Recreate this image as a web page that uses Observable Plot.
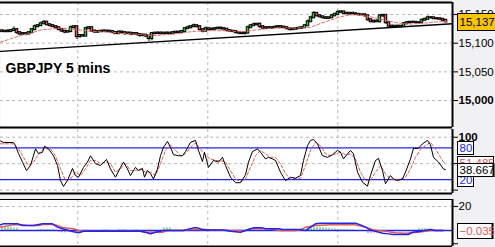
<!DOCTYPE html>
<html><head><meta charset="utf-8">
<script src="https://cdn.jsdelivr.net/npm/d3@7"></script>
<script src="https://cdn.jsdelivr.net/npm/@observablehq/plot@0.6"></script>
<style>
html,body{margin:0;padding:0;background:#fff;}
#chart{position:relative;width:495px;height:247px;overflow:hidden;background:#f1f1f4;}
#chart svg{display:block;}
</style></head><body><div id="chart"></div>
<script>
// ---------- data ----------
const title = "GBPJPY 5 mins";
const closes = [
15120.2,15121.0,15120.2,15121.9,15123.6,15118.4,15115.9,15116.7,15115.9,15118.4,
15123.6,15128.8,15130.5,15133.9,15136.5,15132.2,15130.5,15128.8,15127.0,15123.6,
15121.0,15119.3,15120.2,15127.0,15128.8,15111.5,15113.3,15112.4,15125.3,15127.0,
15121.0,15119.3,15120.2,15121.0,15120.2,15121.0,15120.2,15118.4,15116.7,15119.3,
15118.4,15116.7,15117.6,15115.9,15116.7,15115.0,15113.3,15114.1,15112.4,15108.1,
15116.7,15117.6,15116.7,15117.6,15116.7,15117.6,15116.7,15118.4,15119.3,15118.4,
15120.2,15125.3,15127.0,15128.8,15130.5,15128.8,15123.6,15121.0,15125.3,15123.6,
15124.5,15125.3,15126.2,15125.3,15124.5,15121.9,15121.0,15120.2,15118.4,15117.6,
15116.7,15117.6,15127.0,15130.5,15132.2,15133.1,15128.8,15126.2,15127.0,15126.2,
15127.0,15127.9,15128.8,15127.9,15127.0,15125.3,15123.6,15124.5,15125.3,15126.2,
15127.0,15130.5,15137.4,15144.3,15152.1,15147.7,15146.0,15144.3,15143.4,15144.3,
15147.7,15150.3,15153.8,15154.6,15152.1,15151.2,15152.1,15151.2,15150.3,15149.5,
15149.5,15147.7,15140.9,15137.4,15138.3,15137.4,15147.7,15148.6,15135.7,15129.6,
15128.8,15129.6,15128.8,15129.6,15133.9,15135.7,15136.5,15136.5,15135.7,15135.7,
15140.0,15141.7,15144.3,15144.3,15142.6,15142.6,15141.7,15140.0,15137.0];
const firstOpen = 15121.5;
const upWick = [
2,1,3,2,5,2,1,2,1,2, 2,3,2,3,3,2,1,2,2,1, 2,1,2,3,2,1,2,1,3,2, 1,2,2,1,3,2,1,2,1,2,
2,1,2,1,2,2,1,2,1,1, 2,1,2,2,1,2,1,2,1,2, 2,2,3,2,3,1,1,2,3,1, 2,1,2,2,1,1,2,1,1,2,
1,2,3,2,3,1,2,2,1,2, 1,2,2,1,2,1,1,2,1,2, 2,2,3,3,3,1,2,1,2,1, 2,2,3,2,1,2,1,2,2,1,
1,2,1,1,2,3,2,1,1,1, 2,1,2,1,2,2,1,2,1,1, 2,2,3,2,1,2,1,1,1];
const downWick = [
1,2,2,1,1,3,2,1,3,1, 1,1,2,1,1,2,2,1,2,2, 2,3,1,1,2,5,3,2,1,1, 2,1,2,2,1,2,3,2,1,2,
2,3,1,3,2,2,3,2,3,5, 4,2,1,2,2,1,2,1,2,1, 1,1,1,2,1,2,2,3,1,2, 1,2,1,2,1,2,2,1,2,3,
2,2,1,1,1,2,3,1,2,1, 2,1,1,2,1,2,2,1,2,1, 1,1,1,1,1,2,2,2,1,2, 1,1,1,1,2,1,2,1,1,2,
1,2,3,2,3,1,2,3,3,2, 1,2,1,2,1,1,2,1,2,2, 1,1,1,2,1,2,1,2,1];
const maT = [0,3.33,6.67,10,13.33,16.67,20,23.33,26.67,30,33.33,36.67,40,43.33,46.67,50,51.67,55,58.33,61.67,65,68.33,71.67,75,78.33,81.67,85,88.33,91.67,95,98.33,101.67,103.33,106.67,110,113.33,116.67,120,123.33,126.67,130,133.33,136.67,140,143.33,146.67,149.33];
const maV = [15101.7,15107.6,15113.3,15117.2,15123.1,15124.8,15126.5,15124.8,15123.1,15120.7,15120.7,15119.0,15117.2,15116.2,15115.0,15113.3,15113.3,15115.0,15116.2,15119.0,15120.7,15121.9,15121.9,15121.9,15120.7,15120.7,15123.1,15124.8,15126.5,15126.5,15126.5,15127.2,15127.6,15134.5,15140.3,15146.0,15149.5,15149.5,15146.0,15142.1,15137.9,15134.5,15133.4,15134.5,15136.2,15137.9,15137.9];
const trendT = [0,150.67];
const trendV = [15085.7,15133.9];
const timeGrid = [25.77,69.1,112.43];
const priceTicks = [15150,15100,15050];
const priceBoldTicks = [15000];
const lastPrice = 15137.0;

const kT = [0,1,4.33,5,6,7.33,8.67,10,11.67,12.67,14,14.67,16,17.67,19,20,21,22.33,24,25,26,27.67,29,30,31.67,33.33,35.33,36.67,38.33,40,41,42.33,43.33,45,46,47.33,48,49,50,51,52.33,53.33,54.33,55.67,56.67,57.67,59.33,60.67,61.67,63.33,65,66,67.33,68,69.33,71,72.67,74,75,76.67,78.33,80,81.67,82.67,84,85.67,86.67,88.33,89.33,90.67,91.67,93.33,95,96.67,98.33,100,101,102.33,103.33,104.33,105.67,107.33,109,110.67,112.33,113.33,114.33,115.67,116.67,117.67,119,120.67,122.33,123.33,125,126,127.33,128.33,130,131,132.33,134,135,136.67,137.67,139.33,140.67,142.33,143.33,144.33,146,147.67,148.33];
const kV = [93,90,90,84,69,53,37,46.5,78,69,71.6,83,78,65,46.5,18,7,18,41,27.6,24.4,43,53,65,50,46.5,58,40,24.4,43,53,40,27.6,43,37,41,24.4,37,31,21,40,65,81,92,81,67,65,65,73,90.5,94,75,54,71.6,43,56,53,62,46.5,24.4,14,14,29,53,73,78,71.6,59,62,59,56,34,18,24.4,22.5,27.6,56,84,94,95.6,87.5,65,62,67,75,71.6,59,68.6,75,68.6,34,15,7.4,27.6,56,60,37,12,27.6,21,18,21,34,59,79,79,87.5,94,85.6,62,53,40,38.667];
const dT = [0,4.33,6,7.67,9.33,11,12.67,14.33,16.67,18.33,20,21.67,23.33,25,26.67,28.33,30,31.67,33.33,35,36.67,38.33,40,41.67,43.33,45,46.67,48.33,50,51.67,53.33,55,56.67,58.33,60,61.67,63.33,65,66.67,68.33,70,71.67,73.33,75,76.67,78.33,80,81.67,83.33,85,86.67,88.33,90,91.67,93.33,95,96.67,98.33,100,101.67,103.33,105,106.67,108.33,110,111.67,113.33,115,116.67,118.33,120,121.67,123.33,125,126.67,128.33,130,131.67,133.33,135,136.67,138.33,140,141.67,143.33,145,146.67,147.67,148.33];
const dV = [87.5,87.5,78,62,46.5,53,68.6,78,78,65,40,18,21,34,27.6,40,56,56,50,53,50,34,40,50,37,37,40,34,34,27.6,50,75,85.6,75,65,68.6,81,89,78,65,59,56,56,53,37,21,16,21,43,65,75,68.6,62,62,50,31,21,22.5,22.5,46.5,75,90.5,84,68.6,65,68.6,71.6,67,68.6,59,34,18,18,34,46.5,31,21,20,21,24.4,40,62,77,84,90.5,78,62,53,51.4];
const stochGrid = [100,50,0];
const stochLevels = [80,20];

const macdT = [0,1,5.67,7.33,11,14,17.33,19,20.67,22.67,24.33,26,27.67,46.67,48.33,50,51.67,54.33,61,62.67,64.33,65.67,67,69,74.33,76.67,80,81.67,83.33,84.33,87.33,88.33,92.67,94,100,101.67,103.33,105,106.67,118.33,120,121.67,123.33,125,127.33,129.33,131,136,137.33,140,143.33,145,147.67];
const macdV = [4.7,5.6,5.6,4.2,4.2,5.6,5.6,2.8,1.4,0,-1.1,-1.9,-0.6,-0.6,-1.4,-2.8,-1.4,0,0,1.1,2.2,2.2,1.1,0.5,0.5,-0.6,-1.4,0,1.4,2.2,2.2,1.4,1.4,0.8,0.8,0,2.8,5.6,6.1,6.1,4.7,2.8,0.5,-0.6,-2.2,-2.8,-3.3,-3.3,-1.4,-0.6,0.8,0,0];
const sigT = [0,1.67,4,7.33,9,13,14,17.33,19,21,24.33,26,28,46.67,48.33,54,55.67,61,62,64.33,68,72,76.67,81.67,83.33,89,91,93.33,98,100,101.67,105,110,118.33,121.67,124.33,128.33,131.67,135,139.33,143.33,147.67];
const sigV = [2.8,3.6,4.7,4.7,4.2,4.2,5.1,5.1,4.2,2.2,1.4,0,-0.6,-0.6,-1.4,-1.4,0,0,0.5,1.1,0.8,0.5,0,0,1.4,1.4,0.8,0,0,0.5,2.8,4.2,4.7,4.7,2.8,0.5,-0.6,-1.9,-2.2,-1.4,0,0];
const histV = [
3,3,2.5,2.5,2,2, -1,-1,-1,-0.8,-0.8,-0.6, 0.8,0.8,0.8,0.8,0.8,0.6,
-1,-1.5,-2,-2,-1.5,-1,-0.5, -1.2,-1.2,0,0,0,0,0,0,0,0.5, 0.5,0,0,0,0.6,0.6,
0.6,0,0,0.6,0.6,0, -1.2,-1.2,-1.2,-1.2,-1.2,-1.2,-1.2, 2.2,2.2,2.2, 0,0,0,0,
-0.6,-0.6,-0.6,-0.6,-0.6, -0.8,-0.8,-0.8,-0.8,-0.8,-0.8,-0.8,-0.8,-0.8,-0.8,-0.8,-0.8,
0,0,0,0, 1,1,1, 0,0,0,0,0,0,0, -1,-1,-1,-1,-1,-1,-1, 0,0,0,
3,3,2.8,2.6,2.4,2.2,2,1.8, 1.2,1.2,1,1,0.8,0.8,0.6,0.6, 0,0,0,0,
-2.5,-2.5,-2.2,-2, -1,-1,-1,-1,-0.8,-0.8,-0.8,-0.6, 0,0,0,0,0,
1.5,1.5,1.5,1.2,1.2, 0.3,0.3,0,0,0];
const macdTicks = [20];
const macdMinorTicks = [-11];
const lastK = 38.667, lastD = 51.485, lastMacd = -0.035;

// ---------- build ----------
const candles = closes.map((c, i) => {
  const o = i ? closes[i - 1] : firstOpen;
  return {t: i + 0.5, o, c, hi: Math.max(o, c), lo: Math.min(o, c),
          high: Math.max(o, c) + upWick[i], low: Math.min(o, c) - downWick[i]};
});
const zip = (T, V) => T.map((t, i) => ({t, v: V[i]}));
const ma = zip(maT, maV), trend = zip(trendT, trendV);
const kS = zip(kT, kV), dS = zip(dT, dV);
const macd = zip(macdT, macdV), sig = zip(sigT, sigV);
const hist = histV.map((v, i) => ({t: i + 0.5, v}));

const FONT = "'Liberation Sans', Arial, sans-serif";
const xDomain = [0, 150.67];
const GRID = {stroke: "#b8b8b8", strokeDasharray: "3,3", strokeWidth: 1};
const BLUE = "#2424e6", RED = "#e05a5a", GREEN = "#38c038";
const fmtComma = d3.format(",");
const common = {width: 495, marginLeft: 0, marginRight: 43,
  x: {domain: xDomain, axis: null},
  style: {background: "transparent", fontFamily: FONT, overflow: "visible"}};
const AX = {anchor: "right", label: null, tickSize: 5, tickPadding: 1, fontSize: 11.5, fill: "black", textAnchor: "start"};

const y1dom = [14953, 15171];
const p1 = Plot.plot({...common, height: 129, marginTop: 2, marginBottom: 2,
  y: {domain: y1dom, axis: null},
  marks: [
    Plot.frame({fill: "white", stroke: null}),
    Plot.ruleY([...priceTicks, ...priceBoldTicks], GRID),
    Plot.ruleX(timeGrid, GRID),
    Plot.line(trend, {x: "t", y: "v", stroke: "black", strokeWidth: 1.3}),
    Plot.ruleX(candles, {x: "t", y1: "low", y2: "high", stroke: "black", strokeWidth: 1}),
    Plot.rect(candles, {x1: d => d.t - 0.42, x2: d => d.t + 0.42, y1: "lo", y2: "hi",
      insetTop: -0.5, insetBottom: -0.5,
      fill: d => d.c >= d.o ? GREEN : RED, stroke: "black", strokeWidth: 1}),
    Plot.line(ma, {x: "t", y: "v", stroke: "#e46a6a", strokeWidth: 1, strokeDasharray: "3,2"}),
    Plot.text([title], {frameAnchor: "top-left", dx: 5, dy: 61, fontSize: 14, fontWeight: "bold", fill: "black", fontFamily: FONT}),
    Plot.axisY({...AX, ticks: priceTicks, tickFormat: fmtComma}),
    Plot.axisY({...AX, ticks: priceBoldTicks, tickFormat: fmtComma, fontWeight: "bold"}),
    Plot.ruleY([y1dom[1]], {stroke: "black", strokeWidth: 2}),
    Plot.ruleY([y1dom[0]], {stroke: "black", strokeWidth: 2}),
    Plot.ruleX([xDomain[1]], {stroke: "black", strokeWidth: 2})
  ]});

const y2dom = [-6.4, 114.6];
const p2 = Plot.plot({...common, height: 66, marginTop: 0, marginBottom: 2,
  y: {domain: y2dom, axis: null},
  marks: [
    Plot.frame({fill: "white", stroke: null}),
    Plot.ruleY(stochGrid, GRID),
    Plot.ruleX(timeGrid, GRID),
    Plot.ruleY(stochLevels, {stroke: BLUE, strokeWidth: 1.3}),
    Plot.line(dS, {x: "t", y: "v", stroke: RED, strokeWidth: 1, strokeDasharray: "3,2"}),
    Plot.line(kS, {x: "t", y: "v", stroke: "black", strokeWidth: 1}),
    Plot.axisY({...AX, ticks: stochGrid, tickFormat: d => d === 100 ? "100" : "", fontWeight: "bold"}),
    Plot.ruleY([y2dom[0]], {stroke: "black", strokeWidth: 2}),
    Plot.ruleX([xDomain[1]], {stroke: "black", strokeWidth: 2})
  ]});

const y3dom = [-13.3, 25.8];
const p3 = Plot.plot({...common, height: 52, marginTop: 4, marginBottom: 1,
  y: {domain: y3dom, axis: null},
  marks: [
    Plot.frame({fill: "white", stroke: null}),
    Plot.ruleY(macdTicks, GRID),
    Plot.ruleX(timeGrid, GRID),
    Plot.ruleX(hist, {x: "t", y1: 0, y2: "v", stroke: d => d.v >= 0 ? GREEN : RED, strokeWidth: 1}),
    Plot.ruleY([0], {stroke: BLUE, strokeWidth: 1.3}),
    Plot.line(sig, {x: "t", y: "v", stroke: RED, strokeWidth: 1.5}),
    Plot.line(macd, {x: "t", y: "v", stroke: BLUE, strokeWidth: 1.5}),
    Plot.axisY({...AX, ticks: macdTicks}),
    Plot.axisY({...AX, ticks: macdMinorTicks, tickFormat: () => ""}),
    Plot.ruleY([y3dom[1]], {stroke: "black", strokeWidth: 1}),
    Plot.ruleY([y3dom[0]], {stroke: "black", strokeWidth: 2}),
    Plot.ruleX([xDomain[1]], {stroke: "black", strokeWidth: 2})
  ]});

const chart = document.getElementById("chart");
[p1, p2, p3].forEach(p => chart.appendChild(p));

function box(plot, value, {x = 457, w = 40, h = 16, fill = "white", text, color = "black", weight = "normal", rightThick = false}) {
  const py = plot.scale("y").apply(value);
  const g = d3.select(plot).append("g");
  g.append("rect").attr("x", x + 0.5).attr("y", Math.round(py - h / 2) + 0.5)
    .attr("width", w).attr("height", h).attr("fill", fill).attr("stroke", "black");
  if (rightThick) g.append("line").attr("x1", x + w + 0.5).attr("x2", x + w + 0.5)
    .attr("y1", Math.round(py - h / 2)).attr("y2", Math.round(py + h / 2) + 1).attr("stroke", "black").attr("stroke-width", 2);
  g.append("text").attr("x", x + 2.5).attr("y", py + 4.5).attr("fill", color)
    .attr("text-anchor", "start")
    .attr("font-size", 11.5).attr("font-weight", weight).attr("font-family", FONT).text(text);
}
box(p1, lastPrice, {fill: "#f7c408", text: d3.format(",.1f")(lastPrice), w: 45, h: 17});
box(p2, 80, {text: "80", color: BLUE, w: 16, h: 13});
box(p2, 20, {text: "20", color: BLUE, w: 16, h: 13});
box(p2, lastD, {text: d3.format(".3f")(lastD), color: RED, w: 36, h: 13});
box(p2, lastK, {text: d3.format(".3f")(lastK), w: 36, h: 13, rightThick: true});
box(p3, lastMacd, {text: d3.format(".3f")(lastMacd), color: RED, w: 35, h: 15, rightThick: true});
</script></body></html>
